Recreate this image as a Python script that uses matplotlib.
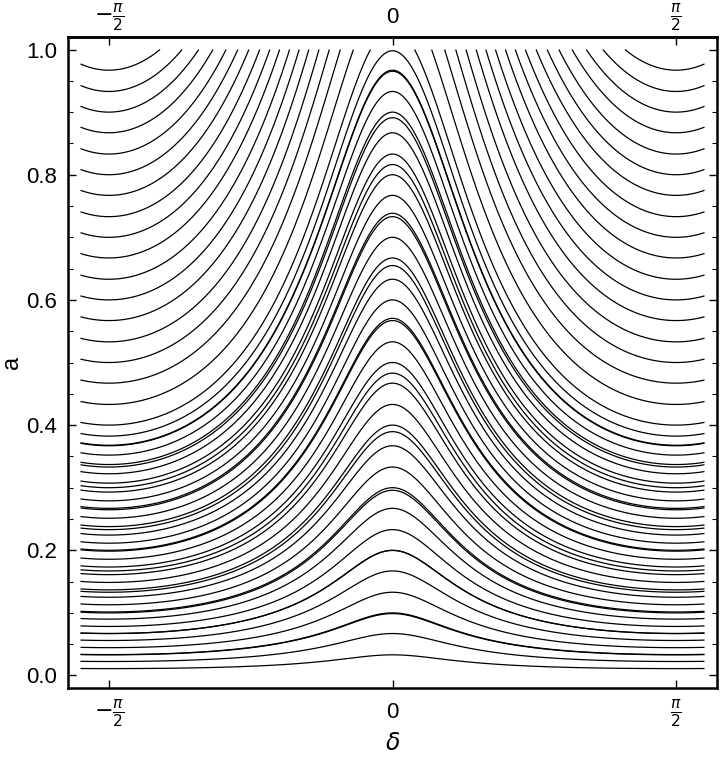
import numpy as np
import matplotlib
matplotlib.use("Agg")
import matplotlib.pyplot as plt
from matplotlib.ticker import MultipleLocator

plt.rcParams['font.family'] = ['Liberation Sans', 'DejaVu Sans']
plt.rcParams['mathtext.fontset'] = 'dejavusans'

# curves labelled by their value of a at delta = +-pi/2 (the minimum)
a_at_half_pi = [0.033, 0.067, 0.100, 0.133, 0.167, 0.200, 0.233, 0.267, 0.300,
                0.333, 0.367, 0.400, 0.433, 0.467, 0.500, 0.533, 0.567, 0.600,
                0.633, 0.667, 0.700, 0.733, 0.767, 0.800, 0.833, 0.867, 0.900,
                0.933, 0.967]
# second family, labelled by their value of a at delta = 0 (the peak)
a_at_zero = [0.033, 0.067, 0.100, 0.133, 0.167, 0.200, 0.233, 0.267, 0.300,
             0.333, 0.367, 0.400, 0.433, 0.467, 0.500, 0.533, 0.567, 0.600,
             0.633, 0.667, 0.700, 0.733, 0.767, 0.800, 0.833, 0.867, 0.900,
             0.933, 0.967, 0.998]

x_ticks = [-np.pi / 2, 0, np.pi / 2]
x_tick_labels = [r'$-\frac{\pi}{2}$', '0', r'$\frac{\pi}{2}$']
y_ticks = [0.0, 0.2, 0.4, 0.6, 0.8, 1.0]

# quantity kept constant along each curve
c4 = 0.33
def invariant(dd, aa):
    return aa**2 * (1 + 8 * np.sin(dd)**2) + c4 * aa**4

d = np.linspace(-0.55 * np.pi, 0.55 * np.pi, 900)
a = np.linspace(0, 1, 900)
D, A = np.meshgrid(d, a)
H = invariant(D, A)

levels_1 = sorted(invariant(np.pi / 2, np.array(a_at_half_pi)))
levels_2 = sorted(invariant(0.0, np.array(a_at_zero)))

fig = plt.figure(figsize=(7.2, 7.58), dpi=100)
ax = fig.add_axes([68 / 720, (758 - 688) / 758, (717 - 68) / 720, (688 - 37) / 758])
ax.contour(D, A, H, levels=levels_1, colors='black', linewidths=0.9)
ax.contour(D, A, H, levels=levels_2, colors='black', linewidths=0.9)

ax.set_xlim(-0.55 * np.pi * 1.04, 0.55 * np.pi * 1.04)
ax.set_ylim(-0.02, 1.02)
ax.set_xticks(x_ticks)
ax.set_xticklabels(x_tick_labels)
for lab in ax.get_xticklabels():
    lab.set_va('center')
ax.set_yticks(y_ticks)
ax.set_yticklabels(['%.1f' % v for v in y_ticks])
ax.yaxis.set_minor_locator(MultipleLocator(0.05))
ax.tick_params(direction='in', top=False, right=True, length=6, width=1)
ax.tick_params(axis='y', labelsize=16, pad=8)
ax.tick_params(axis='x', labelsize=16, pad=18)
ax.tick_params(which='minor', direction='in', right=True, length=3.5, width=0.8)

top = ax.secondary_xaxis('top')
top.set_xticks(x_ticks)
top.set_xticklabels(x_tick_labels)
top.tick_params(direction='in', length=6, width=1, labelsize=16, pad=14)
for lab in top.get_xticklabels():
    lab.set_va('center')

for s in list(ax.spines.values()) + [top.spines['top']]:
    s.set_linewidth(1.8)

ax.set_xlabel(r'$\delta$', fontsize=17)
ax.xaxis.set_label_coords(0.5, -0.069)
ax.set_ylabel('a', fontsize=17)
ax.yaxis.set_label_coords(-0.069, 0.5)

fig.savefig('out.png', dpi=100)
